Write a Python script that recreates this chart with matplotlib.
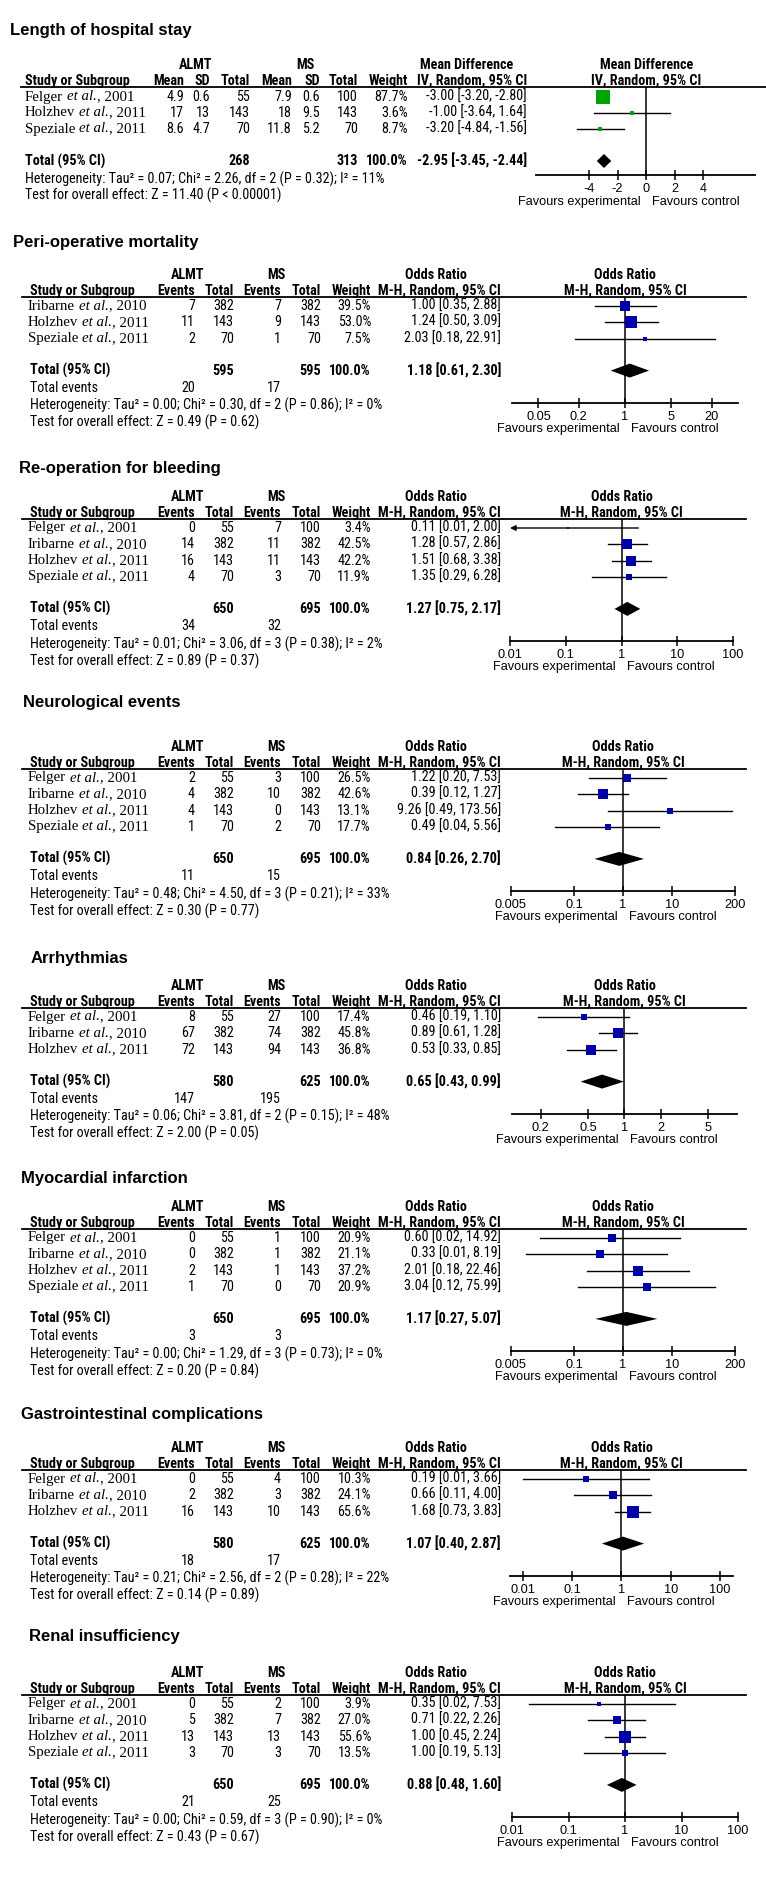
import numpy as np
import matplotlib.pyplot as plt
from matplotlib import font_manager as fm
from matplotlib.ticker import NullLocator

# fonts: narrow sans for the tables, serif for study names
avail = {f.name for f in fm.fontManager.ttflist}
NARROW = next((f for f in ["Liberation Sans Narrow", "Arial Narrow", "Roboto Condensed"] if f in avail),
              "Liberation Sans")
SANS = "Liberation Sans"
SERIF = "Liberation Serif"

# ---------------- data ----------------
titles = ["Length of hospital stay", "Peri-operative mortality", "Re-operation for bleeding",
          "Neurological events", "Arrhythmias", "Myocardial infarction",
          "Gastrointestinal complications", "Renal insufficiency"]

# Length of hospital stay (mean difference, IV random)
los_study = ["Felger", "Holzhev", "Speziale"]
los_year = [2001, 2011, 2011]
los_mean1 = [4.9, 17, 8.6]
los_sd1 = [0.6, 13, 4.7]
los_n1 = [55, 143, 70]
los_mean2 = [7.9, 18, 11.8]
los_sd2 = [0.6, 9.5, 5.2]
los_n2 = [100, 143, 70]
los_wt = [87.7, 3.6, 8.7]
los_md = [-3.00, -1.00, -3.20]
los_lo = [-3.20, -3.64, -4.84]
los_hi = [-2.80, 1.64, -1.56]
los_tot_n = [268, 313]
los_pooled = [-2.95, -3.45, -2.44]
los_het = [0.07, 2.26, 2, "0.32", 11]
los_z = [11.40, "< 0.00001"]
los_ticks = [-4, -2, 0, 2, 4]

# Peri-operative mortality
mort_study = ["Iribarne", "Holzhev", "Speziale"]
mort_year = [2010, 2011, 2011]
mort_ev1 = [7, 11, 2]
mort_n1 = [382, 143, 70]
mort_ev2 = [7, 9, 1]
mort_n2 = [382, 143, 70]
mort_wt = [39.5, 53.0, 7.5]
mort_or = [1.00, 1.24, 2.03]
mort_lo = [0.35, 0.50, 0.18]
mort_hi = [2.88, 3.09, 22.91]
mort_tot_n = [595, 595]
mort_tot_ev = [20, 17]
mort_pooled = [1.18, 0.61, 2.30]
mort_het = [0.00, 0.30, 2, "0.86", 0]
mort_z = [0.49, "= 0.62"]
mort_ticks = [0.05, 0.2, 1, 5, 20]

# Re-operation for bleeding
bleed_study = ["Felger", "Iribarne", "Holzhev", "Speziale"]
bleed_year = [2001, 2010, 2011, 2011]
bleed_ev1 = [0, 14, 16, 4]
bleed_n1 = [55, 382, 143, 70]
bleed_ev2 = [7, 11, 11, 3]
bleed_n2 = [100, 382, 143, 70]
bleed_wt = [3.4, 42.5, 42.2, 11.9]
bleed_or = [0.11, 1.28, 1.51, 1.35]
bleed_lo = [0.01, 0.57, 0.68, 0.29]
bleed_hi = [2.00, 2.86, 3.38, 6.28]
bleed_tot_n = [650, 695]
bleed_tot_ev = [34, 32]
bleed_pooled = [1.27, 0.75, 2.17]
bleed_het = [0.01, 3.06, 3, "0.38", 2]
bleed_z = [0.89, "= 0.37"]
bleed_ticks = [0.01, 0.1, 1, 10, 100]

# Neurological events
neuro_study = ["Felger", "Iribarne", "Holzhev", "Speziale"]
neuro_year = [2001, 2010, 2011, 2011]
neuro_ev1 = [2, 4, 4, 1]
neuro_n1 = [55, 382, 143, 70]
neuro_ev2 = [3, 10, 0, 2]
neuro_n2 = [100, 382, 143, 70]
neuro_wt = [26.5, 42.6, 13.1, 17.7]
neuro_or = [1.22, 0.39, 9.26, 0.49]
neuro_lo = [0.20, 0.12, 0.49, 0.04]
neuro_hi = [7.53, 1.27, 173.56, 5.56]
neuro_tot_n = [650, 695]
neuro_tot_ev = [11, 15]
neuro_pooled = [0.84, 0.26, 2.70]
neuro_het = [0.48, 4.50, 3, "0.21", 33]
neuro_z = [0.30, "= 0.77"]
neuro_ticks = [0.005, 0.1, 1, 10, 200]

# Arrhythmias
arr_study = ["Felger", "Iribarne", "Holzhev"]
arr_year = [2001, 2010, 2011]
arr_ev1 = [8, 67, 72]
arr_n1 = [55, 382, 143]
arr_ev2 = [27, 74, 94]
arr_n2 = [100, 382, 143]
arr_wt = [17.4, 45.8, 36.8]
arr_or = [0.46, 0.89, 0.53]
arr_lo = [0.19, 0.61, 0.33]
arr_hi = [1.10, 1.28, 0.85]
arr_tot_n = [580, 625]
arr_tot_ev = [147, 195]
arr_pooled = [0.65, 0.43, 0.99]
arr_het = [0.06, 3.81, 2, "0.15", 48]
arr_z = [2.00, "= 0.05"]
arr_ticks = [0.2, 0.5, 1, 2, 5]

# Myocardial infarction
mi_study = ["Felger", "Iribarne", "Holzhev", "Speziale"]
mi_year = [2001, 2010, 2011, 2011]
mi_ev1 = [0, 0, 2, 1]
mi_n1 = [55, 382, 143, 70]
mi_ev2 = [1, 1, 1, 0]
mi_n2 = [100, 382, 143, 70]
mi_wt = [20.9, 21.1, 37.2, 20.9]
mi_or = [0.60, 0.33, 2.01, 3.04]
mi_lo = [0.02, 0.01, 0.18, 0.12]
mi_hi = [14.92, 8.19, 22.46, 75.99]
mi_tot_n = [650, 695]
mi_tot_ev = [3, 3]
mi_pooled = [1.17, 0.27, 5.07]
mi_het = [0.00, 1.29, 3, "0.73", 0]
mi_z = [0.20, "= 0.84"]
mi_ticks = [0.005, 0.1, 1, 10, 200]

# Gastrointestinal complications
gi_study = ["Felger", "Iribarne", "Holzhev"]
gi_year = [2001, 2010, 2011]
gi_ev1 = [0, 2, 16]
gi_n1 = [55, 382, 143]
gi_ev2 = [4, 3, 10]
gi_n2 = [100, 382, 143]
gi_wt = [10.3, 24.1, 65.6]
gi_or = [0.19, 0.66, 1.68]
gi_lo = [0.01, 0.11, 0.73]
gi_hi = [3.66, 4.00, 3.83]
gi_tot_n = [580, 625]
gi_tot_ev = [18, 17]
gi_pooled = [1.07, 0.40, 2.87]
gi_het = [0.21, 2.56, 2, "0.28", 22]
gi_z = [0.14, "= 0.89"]
gi_ticks = [0.01, 0.1, 1, 10, 100]

# Renal insufficiency
ren_study = ["Felger", "Iribarne", "Holzhev", "Speziale"]
ren_year = [2001, 2010, 2011, 2011]
ren_ev1 = [0, 5, 13, 3]
ren_n1 = [55, 382, 143, 70]
ren_ev2 = [2, 7, 13, 3]
ren_n2 = [100, 382, 143, 70]
ren_wt = [3.9, 27.0, 55.6, 13.5]
ren_or = [0.35, 0.71, 1.00, 1.00]
ren_lo = [0.02, 0.22, 0.45, 0.19]
ren_hi = [7.53, 2.26, 2.24, 5.13]
ren_tot_n = [650, 695]
ren_tot_ev = [21, 25]
ren_pooled = [0.88, 0.48, 1.60]
ren_het = [0.00, 0.59, 3, "0.90", 0]
ren_z = [0.43, "= 0.67"]
ren_ticks = [0.01, 0.1, 1, 10, 100]

or_outcomes = [
    (mort_study, mort_year, mort_ev1, mort_n1, mort_ev2, mort_n2, mort_wt, mort_or, mort_lo, mort_hi,
     mort_tot_n, mort_tot_ev, mort_pooled, mort_het, mort_z, mort_ticks),
    (bleed_study, bleed_year, bleed_ev1, bleed_n1, bleed_ev2, bleed_n2, bleed_wt, bleed_or, bleed_lo, bleed_hi,
     bleed_tot_n, bleed_tot_ev, bleed_pooled, bleed_het, bleed_z, bleed_ticks),
    (neuro_study, neuro_year, neuro_ev1, neuro_n1, neuro_ev2, neuro_n2, neuro_wt, neuro_or, neuro_lo, neuro_hi,
     neuro_tot_n, neuro_tot_ev, neuro_pooled, neuro_het, neuro_z, neuro_ticks),
    (arr_study, arr_year, arr_ev1, arr_n1, arr_ev2, arr_n2, arr_wt, arr_or, arr_lo, arr_hi,
     arr_tot_n, arr_tot_ev, arr_pooled, arr_het, arr_z, arr_ticks),
    (mi_study, mi_year, mi_ev1, mi_n1, mi_ev2, mi_n2, mi_wt, mi_or, mi_lo, mi_hi,
     mi_tot_n, mi_tot_ev, mi_pooled, mi_het, mi_z, mi_ticks),
    (gi_study, gi_year, gi_ev1, gi_n1, gi_ev2, gi_n2, gi_wt, gi_or, gi_lo, gi_hi,
     gi_tot_n, gi_tot_ev, gi_pooled, gi_het, gi_z, gi_ticks),
    (ren_study, ren_year, ren_ev1, ren_n1, ren_ev2, ren_n2, ren_wt, ren_or, ren_lo, ren_hi,
     ren_tot_n, ren_tot_ev, ren_pooled, ren_het, ren_z, ren_ticks),
]

# ---------------- layout (pixels) ----------------
W, H = 766, 1887
title_x = [10, 13, 19, 23, 31, 21, 21, 29]
title_y = [30, 243, 468, 702, 958, 1178, 1414, 1636]
line_y = [87, 297, 519, 769, 1008, 1229, 1470, 1695]
plot_x = [(536, 755), (512, 738), (510, 733), (511, 735), (512, 737), (511, 735), (510, 733), (512, 738)]
plot_lim = [(-7.7, 7.6), (0.02, 50), (0.01, 100), (0.005, 200), (0.115, 8.7), (0.005, 200),
            (0.0055, 182), (0.01, 100)]

BLUE = "#0000A8"
GREEN = "#00A400"
FS = 10.2       # table text
FS_NAME = 10.7  # study names
FS_AX = 9.2     # axis labels

fig = plt.figure(figsize=(W / 100, H / 100), dpi=100)
bg = fig.add_axes([0, 0, 1, 1])
bg.set_xlim(0, W)
bg.set_ylim(H, 0)
bg.axis("off")
renderer = fig.canvas.get_renderer()


def txt(x, y, s, ha="left", bold=False, size=FS, family=None, style="normal"):
    return bg.text(x, y, s, ha=ha, va="center", fontsize=size, fontstyle=style,
                   fontweight="bold" if bold else "normal", family=family or NARROW)


def width(t):
    return t.get_window_extent(renderer).width


# width of one serif space
_a = txt(0, -50, "xx", size=FS_NAME, family=SERIF)
_b = txt(0, -50, "x x", size=FS_NAME, family=SERIF)
SPACE = width(_b) - width(_a)
_a.remove()
_b.remove()


def study_text(x, y, name, year):
    t = txt(x, y, name, size=FS_NAME, family=SERIF)
    x += width(t) + SPACE
    t = txt(x, y, "et al.", size=FS_NAME, family=SERIF, style="italic")
    x += width(t)
    txt(x, y, f", {year}", size=FS_NAME, family=SERIF)


def het_text(h):
    return f"Heterogeneity: Tau² = {h[0]:.2f}; Chi² = {h[1]:.2f}, df = {h[2]} (P = {h[3]}); I² = {h[4]}%"


def z_text(z):
    return f"Test for overall effect: Z = {z[0]:.2f} (P {z[1]})"


def forest(k, rows, est, lo, hi, wt, color, pooled, total_y, axis_y, ticks, log, null,
           head1, head2, fav_off):
    L = line_y[k]
    x0, x1 = plot_x[k]
    ax = fig.add_axes([x0 / W, 1 - axis_y / H, (x1 - x0) / W, (axis_y - L) / H])
    ax.patch.set_alpha(0)
    if log:
        ax.set_xscale("log")
    ax.set_xlim(plot_lim[k])
    ax.set_ylim(axis_y - L, 0)
    for s in ["top", "right", "left"]:
        ax.spines[s].set_visible(False)
    ax.spines["bottom"].set_linewidth(1.3)
    ax.set_yticks([])
    ax.xaxis.set_minor_locator(NullLocator())
    ax.set_xticks(ticks)
    ax.set_xticklabels([f"{t:g}" for t in ticks], family=SANS, fontsize=FS_AX)
    ax.tick_params(axis="x", direction="inout", length=7, width=1.1, pad=2.5)
    ax.axvline(null, color="k", lw=1.1, zorder=1)
    xmin = plot_lim[k][0]
    for y, e, a, b, w in zip(rows, est, lo, hi, wt):
        yy = y - L
        if a <= xmin:
            ax.annotate("", xy=(xmin, yy), xytext=(b, yy),
                        arrowprops=dict(arrowstyle="-|>", color="k", lw=1, mutation_scale=8,
                                        shrinkA=0, shrinkB=0))
        else:
            ax.plot([a, b], [yy, yy], color="k", lw=1, zorder=2)
        side = 1.6 * np.sqrt(w)
        ax.plot(e, yy, marker="s", ms=side * 0.72, color=color, mec=color, mew=0, zorder=3)
    yt = total_y - L
    ax.fill([pooled[1], pooled[0], pooled[2], pooled[0]], [yt, yt - 7, yt, yt + 7],
            color="k", zorder=3, lw=0)
    for s, dy in [(head1, -22), (head2, -6)]:
        ax.text(null, dy, s, ha="center", va="center", fontsize=FS, fontweight="bold",
                family=NARROW, clip_on=False)
    fy = axis_y - L + fav_off
    ax.annotate("Favours experimental", xy=(null, fy), xytext=(-4, 0), textcoords="offset points",
                ha="right", va="center", fontsize=FS_AX, family=SANS, annotation_clip=False)
    ax.annotate("Favours control", xy=(null, fy), xytext=(4, 0), textcoords="offset points",
                ha="left", va="center", fontsize=FS_AX, family=SANS, annotation_clip=False)


# ---------------- titles ----------------
for k, t in enumerate(titles):
    txt(title_x[k], title_y[k], t, bold=True, size=12, family=SANS)

# ---------------- panel 1: mean difference ----------------
L = line_y[0]
cx = dict(m1=184, s1=210, t1=250, m2=292, s2=320, t2=358, wt=408, ci=527)
left = 25
txt(196, L - 22, "ALMT", ha="center", bold=True)
txt(305, L - 22, "MS", ha="center", bold=True)
txt(467, L - 22, "Mean Difference", ha="center", bold=True)
txt(left, L - 6, "Study or Subgroup", bold=True)
for key, s in zip(["m1", "s1", "t1", "m2", "s2", "t2", "wt", "ci"],
                  ["Mean", "SD", "Total", "Mean", "SD", "Total", "Weight", "IV, Random, 95% CI"]):
    txt(cx[key], L - 6, s, ha="right", bold=True)
bg.plot([left - 4, W], [L, L], color="k", lw=1.3)
rows = [L + 10 + 16 * i for i in range(len(los_study))]
for i, y in enumerate(rows):
    study_text(left, y, los_study[i], los_year[i])
    vals = [f"{los_mean1[i]:g}", f"{los_sd1[i]:g}", f"{los_n1[i]}", f"{los_mean2[i]:g}",
            f"{los_sd2[i]:g}", f"{los_n2[i]}", f"{los_wt[i]:.1f}%",
            f"{los_md[i]:.2f} [{los_lo[i]:.2f}, {los_hi[i]:.2f}]"]
    for key, v in zip(["m1", "s1", "t1", "m2", "s2", "t2", "wt", "ci"], vals):
        txt(cx[key], y, v, ha="right")
ty = rows[-1] + 32
txt(left, ty, "Total (95% CI)", bold=True)
txt(cx["t1"], ty, f"{los_tot_n[0]}", ha="right", bold=True)
txt(cx["t2"], ty, f"{los_tot_n[1]}", ha="right", bold=True)
txt(cx["wt"], ty, "100.0%", ha="right", bold=True)
txt(cx["ci"], ty, f"{los_pooled[0]:.2f} [{los_pooled[1]:.2f}, {los_pooled[2]:.2f}]", ha="right", bold=True)
txt(left, ty + 18, het_text(los_het))
txt(left, ty + 34, z_text(los_z))
forest(0, rows, los_md, los_lo, los_hi, los_wt, GREEN, los_pooled, ty, ty + 14, los_ticks,
       False, 0, "Mean Difference", "IV, Random, 95% CI", 27)

# ---------------- odds-ratio panels ----------------
cx = dict(e1=195, n1=234, e2=281, n2=321, wt=371, ci=501)
left = 30
for j, d in enumerate(or_outcomes):
    k = j + 1
    (study, year, ev1, n1, ev2, n2, wt, orr, lo, hi, tot_n, tot_ev, pooled, het, z, ticks) = d
    L = line_y[k]
    txt(188, L - 22, "ALMT", ha="center", bold=True)
    txt(276, L - 22, "MS", ha="center", bold=True)
    txt(436, L - 22, "Odds Ratio", ha="center", bold=True)
    txt(left, L - 6, "Study or Subgroup", bold=True)
    for key, s in zip(["e1", "n1", "e2", "n2", "wt", "ci"],
                      ["Events", "Total", "Events", "Total", "Weight", "M-H, Random, 95% CI"]):
        txt(cx[key], L - 6, s, ha="right", bold=True)
    bg.plot([left - 8, 746], [L, L], color="k", lw=1.3)
    rows = [L + 9 + 16.3 * i for i in range(len(study))]
    for i, y in enumerate(rows):
        study_text(left - 2, y, study[i], year[i])
        vals = [f"{ev1[i]}", f"{n1[i]}", f"{ev2[i]}", f"{n2[i]}", f"{wt[i]:.1f}%",
                f"{orr[i]:.2f} [{lo[i]:.2f}, {hi[i]:.2f}]"]
        for key, v in zip(["e1", "n1", "e2", "n2", "wt", "ci"], vals):
            txt(cx[key], y, v, ha="right")
    ty = rows[-1] + 32
    txt(left, ty, "Total (95% CI)", bold=True)
    txt(cx["n1"], ty, f"{tot_n[0]}", ha="right", bold=True)
    txt(cx["n2"], ty, f"{tot_n[1]}", ha="right", bold=True)
    txt(cx["wt"], ty, "100.0%", ha="right", bold=True)
    txt(cx["ci"], ty, f"{pooled[0]:.2f} [{pooled[1]:.2f}, {pooled[2]:.2f}]", ha="right", bold=True)
    txt(left, ty + 17, "Total events")
    txt(cx["e1"], ty + 17, f"{tot_ev[0]}", ha="right")
    txt(cx["e2"], ty + 17, f"{tot_ev[1]}", ha="right")
    txt(left, ty + 35, het_text(het))
    txt(left, ty + 52, z_text(z))
    forest(k, rows, orr, lo, hi, wt, BLUE, pooled, ty, ty + 32, ticks, True, 1,
           "Odds Ratio", "M-H, Random, 95% CI", 26)

fig.savefig("out.png", dpi=100)
